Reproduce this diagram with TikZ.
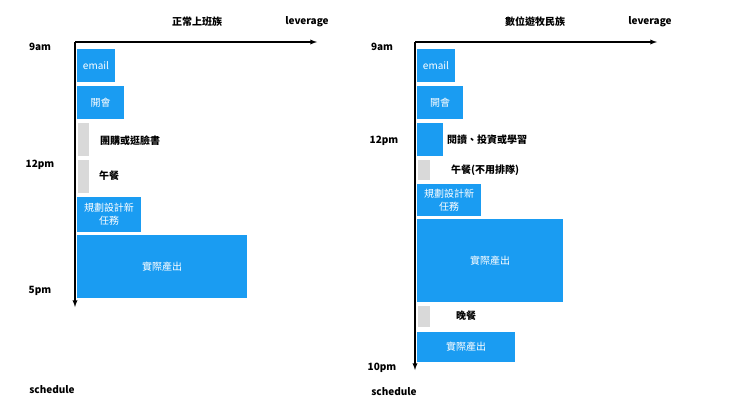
\documentclass[tikz,border=0pt]{standalone}
\usepackage{fontspec}
\setmainfont{Noto Sans CJK TC}
\definecolor{bl}{HTML}{1A9CF2}
\definecolor{gr}{HTML}{D9D9D9}
\begin{document}
\begin{tikzpicture}[x=1pt,y=-1pt,
  ax/.style={line width=1.3pt,-latex},
  lb/.style={font=\fontsize{10}{12}\selectfont\bfseries},
  bx/.style={fill=bl,draw=none},
  gx/.style={fill=gr,draw=none},
  bt/.style={text=white,font=\fontsize{10}{13}\selectfont,align=center}]
\useasboundingbox (0,0) rectangle (740,416);
% left
\coordinate (lo) at (75,42);
\coordinate (lx) at (317,42);
\coordinate (ly) at (75,307);
\draw[ax] (lo) -- (lx);
\draw[ax] (lo) -- (ly);
\node[lb] (t1) at (197,22) {正常上班族};
\node[lb] (l1) at (307,22) {leverage};
\node[lb] (a1) at (40,47) {9am};
\node[lb] (b1) at (40,165) {12pm};
\node[lb] (c1) at (40,291) {5pm};
\node[lb] (s1) at (52,390) {schedule};
\fill[bx] (77,49) rectangle (115,82); \node[bt] (e1) at (96,65.5) {email};
\fill[bx] (77,86) rectangle (124,119); \node[bt] (m1) at (100.5,102.5) {開會};
\fill[gx] (78,123) rectangle (89,156); \node[lb] (g1) at (130,141) {團購或逛臉書};
\fill[gx] (78,160) rectangle (89,193); \node[lb] (g2) at (109,176) {午餐};
\fill[bx] (77,197) rectangle (141,232); \node[bt] (p1) at (109,214.5) {規劃設計新\\任務};
\fill[bx] (77,235) rectangle (247,298); \node[bt] (r1) at (162,266.5) {實際產出};
% right
\coordinate (ro) at (415,42);
\coordinate (rx) at (657,42);
\coordinate (ry) at (415,370);
\draw[ax] (ro) -- (rx);
\draw[ax] (ro) -- (ry);
\node[lb] (t2) at (535,22) {數位遊牧民族};
\node[lb] (l2) at (650,22) {leverage};
\node[lb] (a2) at (382,47) {9am};
\node[lb] (b2) at (384,141) {12pm};
\node[lb] (c2) at (382,368) {10pm};
\node[lb] (s2) at (394,392) {schedule};
\fill[bx] (417,49) rectangle (455,82); \node[bt] (e2) at (436,65.5) {email};
\fill[bx] (417,86) rectangle (463,119); \node[bt] (m2) at (440,102.5) {開會};
\fill[bx] (417,123) rectangle (443,156); \node[lb] (g3) at (487,140) {閱讀、投資或學習};
\fill[gx] (418,160) rectangle (430,180); \node[lb] (g4) at (485,170) {午餐(不用排隊)};
\fill[bx] (417,184) rectangle (481,216); \node[bt] (p2) at (449,200) {規劃設計新\\任務};
\fill[bx] (417,219) rectangle (563,302); \node[bt] (r2) at (490,260.5) {實際產出};
\fill[gx] (418,306) rectangle (430,327); \node[lb] (g5) at (466,316) {晚餐};
\fill[bx] (417,332) rectangle (515,362); \node[bt] (r3) at (466,347) {實際產出};
\end{tikzpicture}
\end{document}
